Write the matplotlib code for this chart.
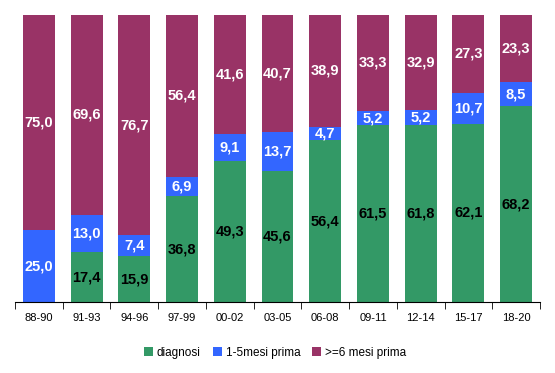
import matplotlib
matplotlib.use("Agg")
import matplotlib.pyplot as plt
import numpy as np

plt.rcParams['font.family'] = ['Liberation Sans', 'DejaVu Sans']

categories = ["88-90", "91-93", "94-96", "97-99", "00-02", "03-05", "06-08", "09-11", "12-14", "15-17", "18-20"]
diagnosi = [0, 17.4, 15.9, 36.8, 49.3, 45.6, 56.4, 61.5, 61.8, 62.1, 68.2]
mesi_1_5 = [25.0, 13.0, 7.4, 6.9, 9.1, 13.7, 4.7, 5.2, 5.2, 10.7, 8.5]
mesi_6 = [75.0, 69.6, 76.7, 56.4, 41.6, 40.7, 38.9, 33.3, 32.9, 27.3, 23.3]

series = [("diagnosi", diagnosi, "#339966", "black"),
          ("1-5mesi prima", mesi_1_5, "#3366FF", "white"),
          (">=6 mesi prima", mesi_6, "#993366", "white")]

fig = plt.figure(figsize=(5.55, 3.73), dpi=100)
ax = fig.add_axes([15/555, 71/373, 525/555, 287/373])
x = np.arange(len(categories))
bottom = np.zeros(len(categories))
for name, vals, color, tcol in series:
    vals = np.array(vals, dtype=float)
    ax.bar(x, vals, bottom=bottom, width=0.67, color=color, label=name)
    for xi, b, v in zip(x, bottom, vals):
        if v > 0:
            ax.text(xi, b + v/2, f"{v:.1f}".replace(".", ","), ha="center", va="center",
                    color=tcol, fontsize=10.5, fontweight="bold")
    bottom += vals

ax.set_xlim(-0.5, len(categories) - 0.5)
ax.set_ylim(0, 100)
for s in ["top", "right", "left"]:
    ax.spines[s].set_visible(False)
ax.spines["bottom"].set_color("black")
ax.set_yticks([])
ax.set_xticks(x)
ax.set_xticklabels(categories, fontsize=8)
ax.set_xticks(np.arange(len(categories) + 1) - 0.5, minor=True)
ax.tick_params(axis="x", which="major", length=0, pad=8)
ax.tick_params(axis="x", which="minor", length=5, direction="out")

fig.legend(loc="center", bbox_to_anchor=(275/555, 1 - 353/373), ncol=3, frameon=False,
           fontsize=8.5, handlelength=0.8, handleheight=0.8, handletextpad=0.3, columnspacing=1.0)
fig.savefig("out.png", dpi=100)
